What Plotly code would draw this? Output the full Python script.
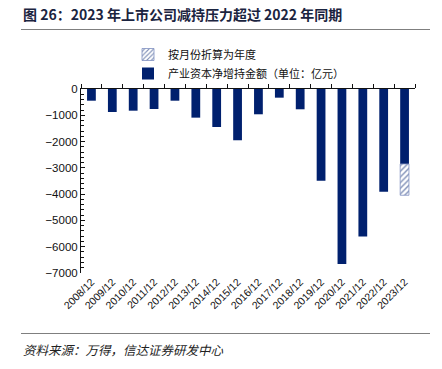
import plotly.graph_objects as go

categories = ["2008/12", "2009/12", "2010/12", "2011/12", "2012/12", "2013/12", "2014/12", "2015/12",
              "2016/12", "2017/12", "2018/12", "2019/12", "2020/12", "2021/12", "2022/12", "2023/12"]
net_holding = [-445, -875, -825, -760, -445, -1090, -1445, -1950,
               -962, -330, -772, -3487, -6654, -5616, -3905, -2852]
annualized_extra = [None] * 15 + [-1190]

series_solid_name = "产业资本净增持金额（单位：亿元）"
series_hatch_name = "按月份折算为年度"
title_text = "图 26：2023 年上市公司减持压力超过 2022 年同期"
source_text = "资料来源：万得，信达证券研发中心"

NAVY = "#00206E"
CJK = "Noto Sans CJK SC"

fig = go.Figure()
fig.add_trace(go.Bar(x=categories, y=net_holding, name=series_solid_name,
                     marker=dict(color=NAVY, line=dict(width=0)), width=0.42))
fig.add_trace(go.Bar(x=categories, y=annualized_extra, name=series_hatch_name,
                     marker=dict(color="white", line=dict(color="#7f8fc0", width=0.8),
                                 pattern=dict(shape="/", fgcolor=NAVY, bgcolor="white",
                                              size=4, solidity=0.35, fillmode="overlay")),
                     width=0.42))
# invisible zero-height bars carry the top (zero-line) axis with category-boundary ticks
fig.add_trace(go.Bar(x=categories, y=[0] * len(categories), xaxis="x2",
                     showlegend=False, hoverinfo="skip", marker=dict(opacity=0)))

fig.update_layout(
    width=442, height=369,
    margin=dict(l=81, r=27, t=89, b=96, autoexpand=False),
    paper_bgcolor="white", plot_bgcolor="white",
    barmode="relative",
    showlegend=True,
    legend=dict(x=(128 - 81) / 334, y=(273 - 40) / 184, xanchor="left", yanchor="top",
                traceorder="reversed", bgcolor="rgba(0,0,0,0)",
                font=dict(family=CJK, size=11, color="#111"),
                itemwidth=30, tracegroupgap=0),
    xaxis=dict(type="category", showline=False, ticks="", showgrid=False,
               tickangle=-45, tickfont=dict(family="Liberation Sans", size=10.5, color="#111")),
    xaxis2=dict(type="category", overlaying="x", side="top",
                showline=True, linecolor="#111", linewidth=1,
                ticks="outside", tickson="boundaries", ticklen=4, tickcolor="#111", tickwidth=1,
                showticklabels=False, showgrid=False, anchor="y"),
    yaxis=dict(range=[-7000, 0], dtick=1000, showline=True, linecolor="#111", linewidth=1,
               ticks="inside", ticklen=4, tickcolor="#111", showgrid=False, zeroline=False,
               minor=dict(dtick=200, ticks="inside", ticklen=3, tickcolor="#111"),
               tickfont=dict(family="Liberation Sans", size=11.5, color="#111")),
    font=dict(family=CJK),
)

fig.add_annotation(text="<b>" + title_text + "</b>", xref="paper", yref="paper",
                   x=(21 - 81) / 334, y=(273 - 14) / 184, xanchor="left", yanchor="middle",
                   showarrow=False, font=dict(family=CJK, size=14, color="#1b2440"))
fig.add_annotation(text="<i>" + source_text + "</i>", xref="paper", yref="paper",
                   x=(21 - 81) / 334, y=(273 - 349) / 184, xanchor="left", yanchor="middle",
                   showarrow=False, font=dict(family=CJK, size=12.5, color="#222"))
# horizontal rules drawn as thin filled annotation boxes
for py in (29, 333):
    fig.add_annotation(text=" ", xref="paper", yref="paper",
                       x=(21 - 81) / 334, y=(273 - py) / 184,
                       xanchor="left", yanchor="middle", showarrow=False,
                       width=409, height=1, borderpad=0, borderwidth=0,
                       bgcolor="#7f7f7f", font=dict(size=1, color="#7f7f7f"))

fig.write_html("out.html", config={"displayModeBar": False},
               post_script="document.body.style.margin='0';document.body.style.padding='0';")
